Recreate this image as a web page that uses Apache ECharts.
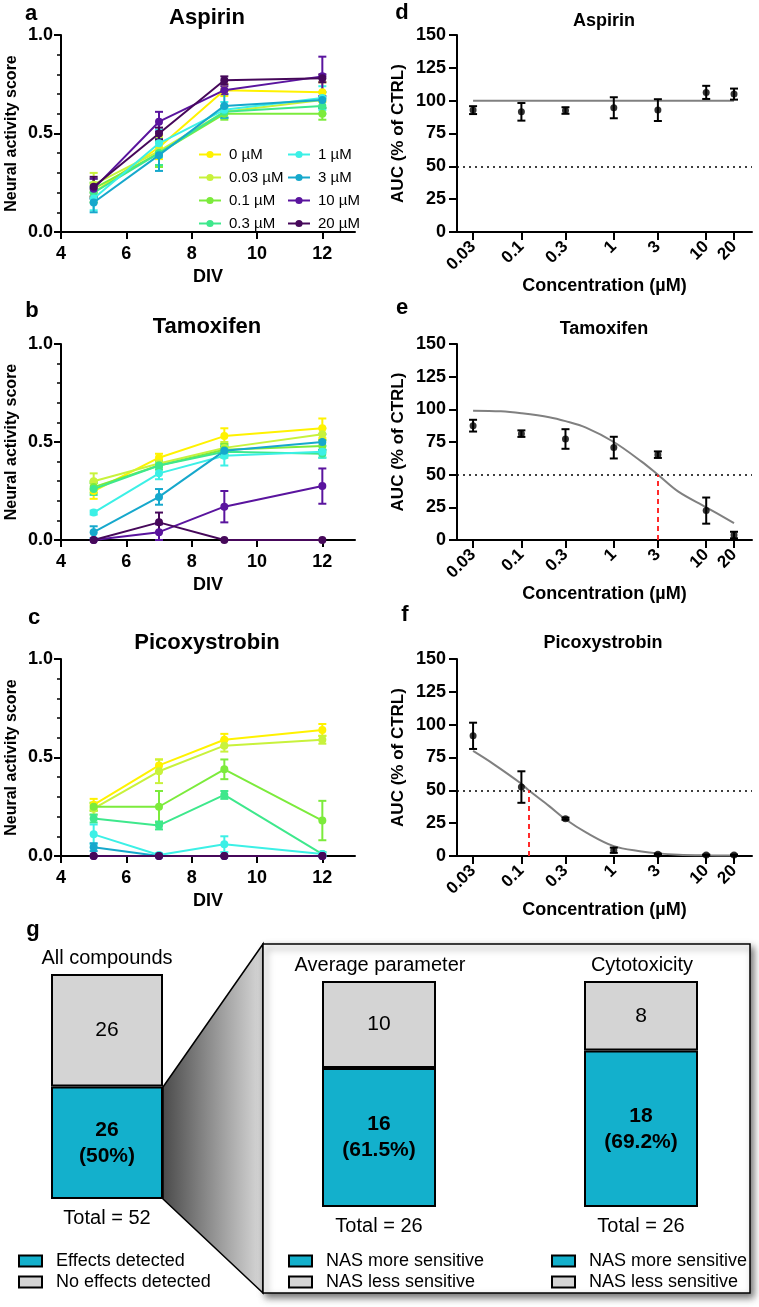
<!DOCTYPE html>
<html><head><meta charset="utf-8">
<script src="https://cdn.jsdelivr.net/npm/echarts@6/dist/echarts.min.js"></script>
<style>html,body{margin:0;padding:0;background:#fff}#c{width:759px;height:1307px}</style>
</head><body><div id="c"></div>
<script>
// ---------- DATA ----------
const concNames = ['0 µM','0.03 µM','0.1 µM','0.3 µM','1 µM','3 µM','10 µM','20 µM'];
const divDays = [5, 7, 9, 12];
const divTicks = [4, 6, 8, 10, 12];

const aspirinMean = [
  [0.20, 0.43, 0.72, 0.71],
  [0.24, 0.41, 0.61, 0.67],
  [0.22, 0.40, 0.60, 0.60],
  [0.20, 0.40, 0.61, 0.64],
  [0.17, 0.45, 0.62, 0.68],
  [0.15, 0.39, 0.64, 0.67],
  [0.22, 0.56, 0.72, 0.79],
  [0.23, 0.50, 0.77, 0.78]
];
const aspirinErr = [
  [0.05, 0.06, 0.03, 0.05],
  [0.06, 0.07, 0.03, 0.04],
  [0.05, 0.07, 0.03, 0.03],
  [0.05, 0.06, 0.03, 0.04],
  [0.06, 0.07, 0.04, 0.06],
  [0.05, 0.08, 0.06, 0.04],
  [0.05, 0.05, 0.02, 0.10],
  [0.05, 0.03, 0.02, 0.02]
];
const tamoxifenMean = [
  [0.25, 0.42, 0.53, 0.57],
  [0.30, 0.39, 0.47, 0.54],
  [0.27, 0.38, 0.46, 0.48],
  [0.26, 0.38, 0.45, 0.44],
  [0.14, 0.34, 0.43, 0.45],
  [0.04, 0.22, 0.455, 0.50],
  [0.00, 0.04, 0.17, 0.275],
  [0.00, 0.09, 0.00, 0.00]
];
const tamoxifenErr = [
  [0.04, 0.02, 0.04, 0.05],
  [0.04, 0.02, 0.03, 0.03],
  [0.03, 0.02, 0.03, 0.03],
  [0.03, 0.02, 0.03, 0.02],
  [0.01, 0.03, 0.05, 0.03],
  [0.03, 0.04, 0.02, 0.04],
  [0.00, 0.04, 0.08, 0.09],
  [0.00, 0.05, 0.00, 0.00]
];
const picoxyMean = [
  [0.26, 0.46, 0.59, 0.64],
  [0.24, 0.43, 0.56, 0.59],
  [0.25, 0.25, 0.44, 0.18],
  [0.19, 0.155, 0.31, 0.01],
  [0.11, 0.005, 0.06, 0.01],
  [0.045, 0.00, 0.00, 0.00],
  [0.00, 0.00, 0.00, 0.00],
  [0.00, 0.00, 0.00, 0.00]
];
const picoxyErr = [
  [0.03, 0.03, 0.03, 0.03],
  [0.03, 0.06, 0.03, 0.02],
  [0.02, 0.08, 0.05, 0.10],
  [0.02, 0.02, 0.02, 0.01],
  [0.05, 0.01, 0.04, 0.01],
  [0.02, 0.00, 0.00, 0.00],
  [0.00, 0.00, 0.00, 0.00],
  [0.00, 0.00, 0.00, 0.00]
];

const doseConc = [0.03, 0.1, 0.3, 1, 3, 10, 20];
const doseLabels = ['0.03', '0.1', '0.3', '1', '3', '10', '20'];
const aspirinAUC = [92.8, 91.5, 92.5, 94.6, 92.8, 106.3, 105.0];
const aspirinAUCErr = [3.0, 6.7, 2.5, 8.0, 8.3, 5.0, 4.2];
const aspirinFitConc = [0.03, 20];
const aspirinFitVal = [100, 100];

const tamoxifenAUC = [87.5, 81.4, 77.3, 70.7, 65.3, 22.5, 3.8];
const tamoxifenAUCErr = [4.5, 2.5, 7.5, 8.3, 2.5, 10.0, 2.5];
const tamoxifenFitConc = [0.03, 0.06, 0.1, 0.2, 0.3, 0.5, 1, 2, 3, 5, 10, 20];
const tamoxifenFitVal = [99, 98.5, 97, 94, 91, 86, 75, 60, 50, 37, 25, 13];
const tamoxifenIC50 = 3;

const picoxyAUC = [91.5, 52.5, 28.4, 4.4, 1.3, 0.8, 0.8];
const picoxyAUCErr = [10.0, 12.0, 0.8, 2.0, 0.5, 0.3, 0.3];
const picoxyFitConc = [0.03, 0.05, 0.1, 0.12, 0.2, 0.3, 0.5, 1, 2, 3, 5, 10, 20];
const picoxyFitVal = [80, 70, 55, 50, 38, 28, 18, 7.5, 3.5, 2, 1, 0.5, 0.3];
const picoxyIC50 = 0.12;

const allNames = ['Effects detected', 'No effects detected'];
const allValues = [26, 26];
const allTotal = 52;
const nasNames = ['NAS more sensitive', 'NAS less sensitive'];
const avgParamValues = [16, 10];
const avgParamTotal = 26;
const cytoValues = [18, 8];
const cytoTotal = 26;

// ---------- STYLE ----------
const FONT = '"Liberation Sans", Arial, Helvetica, sans-serif';
const concColors = ['#fff200', '#c8f23c', '#7ceb3c', '#3ee88c', '#3cf0e6', '#16a8cc', '#5a149e', '#46085a'];
const CYAN = '#13b0cc', GREY = '#d4d4d4';

const chart = echarts.init(document.getElementById('c'), null, {renderer: 'canvas'});

const rows = [{top: 35, height: 197}, {top: 344, height: 196}, {top: 659, height: 197}];
const grids = [];
rows.forEach(r => grids.push({left: 61, width: 294, top: r.top, height: r.height}));
rows.forEach(r => grids.push({left: 457, width: 295, top: r.top, height: r.height}));
grids.push({left: 51, width: 112, top: 974, height: 225});
grids.push({left: 322, width: 114, top: 981, height: 226});
grids.push({left: 584, width: 114, top: 981, height: 226});
grids.forEach(g => g.containLabel = false);

const boldTxt = (size) => ({fontFamily: FONT, fontWeight: 'bold', fontSize: size, color: '#000'});
const xAxes = [], yAxes = [], series = [];

function errRender(params, api) {
  const x = api.value(0), lo = api.value(1), hi = api.value(2);
  const p1 = api.coord([x, hi]), p2 = api.coord([x, lo]);
  const hw = 4;
  const style = {stroke: api.visual('color'), lineWidth: 2, fill: null};
  return {type: 'group', children: [
    {type: 'line', shape: {x1: p1[0], y1: p1[1], x2: p2[0], y2: p2[1]}, style},
    {type: 'line', shape: {x1: p1[0] - hw, y1: p1[1], x2: p1[0] + hw, y2: p1[1]}, style},
    {type: 'line', shape: {x1: p2[0] - hw, y1: p2[1], x2: p2[0] + hw, y2: p2[1]}, style}
  ]};
}

// ---- time-course panels a,b,c ----
const tcData = [[aspirinMean, aspirinErr], [tamoxifenMean, tamoxifenErr], [picoxyMean, picoxyErr]];
tcData.forEach((pair, gi) => {
  xAxes.push({
    gridIndex: gi, type: 'value', min: 4, max: 13,
    name: 'DIV', nameLocation: 'middle', nameGap: 36, nameTextStyle: boldTxt(18),
    axisLine: {onZero: false, lineStyle: {color: '#000', width: 2}},
    axisTick: {customValues: divTicks, length: 7, lineStyle: {color: '#000', width: 2}},
    axisLabel: {customValues: divTicks, margin: 13, ...boldTxt(18)},
    splitLine: {show: false}
  });
  yAxes.push({
    gridIndex: gi, type: 'value', min: 0, max: 1, interval: 0.5,
    name: 'Neural activity score', nameLocation: 'middle', nameGap: 41, nameTextStyle: boldTxt(16),
    axisLine: {show: true, onZero: false, lineStyle: {color: '#000', width: 2}},
    axisTick: {show: true, length: 7, lineStyle: {color: '#000', width: 2}},
    minorTick: {show: true, splitNumber: 5, length: 4, lineStyle: {color: '#000', width: 1.5}},
    axisLabel: {formatter: v => v.toFixed(1), margin: 8, ...boldTxt(18)},
    splitLine: {show: false}, minorSplitLine: {show: false}
  });
  const [means, errs] = pair;
  concNames.forEach((nm, ci) => {
    series.push({
      type: 'line', name: nm, xAxisIndex: gi, yAxisIndex: gi,
      data: divDays.map((d, j) => [d, means[ci][j]]),
      symbol: 'circle', symbolSize: 8, clip: false,
      lineStyle: {color: concColors[ci], width: 2},
      itemStyle: {color: concColors[ci]},
      z: 3 + ci * 0.01
    });
  });
  concNames.forEach((nm, ci) => {
    const ed = [];
    divDays.forEach((d, j) => {
      if (errs[ci][j] > 0) ed.push([d, Math.max(0, means[ci][j] - errs[ci][j]), means[ci][j] + errs[ci][j]]);
    });
    series.push({
      type: 'custom', name: 'err-' + gi + '-' + nm, xAxisIndex: gi, yAxisIndex: gi,
      renderItem: errRender, data: ed, itemStyle: {color: concColors[ci]}, z: 3
    });
  });
});

// ---- dose-response panels d,e,f ----
const L10 = Math.log10;
const doseSets = [
  {auc: aspirinAUC, err: aspirinAUCErr, fc: aspirinFitConc, fv: aspirinFitVal, ic50: null},
  {auc: tamoxifenAUC, err: tamoxifenAUCErr, fc: tamoxifenFitConc, fv: tamoxifenFitVal, ic50: tamoxifenIC50},
  {auc: picoxyAUC, err: picoxyAUCErr, fc: picoxyFitConc, fv: picoxyFitVal, ic50: picoxyIC50}
];
const doseTickVals = doseConc.map(L10);
const doseFmt = v => {
  let best = 0;
  doseTickVals.forEach((t, i) => { if (Math.abs(t - v) < Math.abs(doseTickVals[best] - v)) best = i; });
  return doseLabels[best];
};
doseSets.forEach((ds, k) => {
  const gi = 3 + k;
  xAxes.push({
    gridIndex: gi, type: 'value', min: L10(0.0201), max: L10(31.3),
    name: 'Concentration (µM)', nameLocation: 'middle', nameGap: 45, nameTextStyle: boldTxt(18),
    axisLine: {onZero: false, lineStyle: {color: '#000', width: 2}},
    axisTick: {customValues: doseTickVals, length: 8, lineStyle: {color: '#000', width: 2}},
    axisLabel: {customValues: doseTickVals, rotate: 45, formatter: doseFmt, margin: 12, ...boldTxt(17)},
    splitLine: {show: false}
  });
  yAxes.push({
    gridIndex: gi, type: 'value', min: 0, max: 150, interval: 25,
    name: 'AUC (% of CTRL)', nameLocation: 'middle', nameGap: 50, nameTextStyle: boldTxt(17),
    axisLine: {show: true, onZero: false, lineStyle: {color: '#000', width: 2}},
    axisTick: {show: true, length: 8, lineStyle: {color: '#000', width: 2}},
    axisLabel: {margin: 11, ...boldTxt(18)},
    splitLine: {show: false}
  });
  const mlData = [{yAxis: 50, lineStyle: {color: '#000', type: [2, 4], width: 1.6}}];
  if (ds.ic50) {
    mlData.push([{coord: [L10(ds.ic50), 0], lineStyle: {color: '#ff2a2a', type: [5, 4], width: 2}},
                 {coord: [L10(ds.ic50), 50]}]);
  }
  series.push({
    type: 'line', name: 'fit-' + k, xAxisIndex: gi, yAxisIndex: gi,
    data: ds.fc.map((c, i) => [L10(c), ds.fv[i]]),
    smooth: 0.35, showSymbol: false, symbol: 'none',
    lineStyle: {color: '#808080', width: 2}, z: 2,
    markLine: {silent: true, symbol: 'none', label: {show: false}, animation: false, data: mlData}
  });
  series.push({
    type: 'custom', name: 'doseerr-' + k, xAxisIndex: gi, yAxisIndex: gi,
    renderItem: errRender, itemStyle: {color: '#000'},
    data: doseConc.map((c, i) => [L10(c), Math.max(0, ds.auc[i] - ds.err[i]), ds.auc[i] + ds.err[i]]), z: 4
  });
  series.push({
    type: 'scatter', name: 'dose-' + k, xAxisIndex: gi, yAxisIndex: gi,
    data: doseConc.map((c, i) => [L10(c), ds.auc[i]]),
    symbol: 'circle', symbolSize: 7, itemStyle: {color: '#000'}, z: 5, clip: false
  });
});

// ---- panel g bars ----
const pctText = (v, t) => {
  const p = Math.round(v / t * 1000) / 10;
  return (p % 1 === 0 ? p.toFixed(0) : p.toFixed(1)) + '%';
};
const barSets = [
  {gi: 6, names: allNames, vals: allValues, total: allTotal},
  {gi: 7, names: nasNames, vals: avgParamValues, total: avgParamTotal},
  {gi: 8, names: nasNames, vals: cytoValues, total: cytoTotal}
];
barSets.forEach(bs => {
  xAxes.push({
    gridIndex: bs.gi, type: 'category', data: ['Total = ' + bs.total],
    axisLine: {show: false}, axisTick: {show: false},
    axisLabel: {margin: 9, fontFamily: FONT, fontSize: 20, color: '#000'}
  });
  yAxes.push({gridIndex: bs.gi, type: 'value', min: 0, max: bs.total, show: false, splitLine: {show: false}});
  series.push({
    type: 'bar', name: bs.names[0], xAxisIndex: bs.gi, yAxisIndex: bs.gi, stack: 's' + bs.gi,
    data: [bs.vals[0]], barWidth: '100%',
    itemStyle: {color: CYAN, borderColor: '#000', borderWidth: 2},
    label: {show: true, position: 'inside', formatter: p => p.value + '\n(' + pctText(p.value, bs.total) + ')',
            fontFamily: FONT, fontWeight: 'bold', fontSize: 21, color: '#000', lineHeight: 26}
  });
  series.push({
    type: 'bar', name: bs.names[1], xAxisIndex: bs.gi, yAxisIndex: bs.gi, stack: 's' + bs.gi,
    data: [bs.vals[1]], barWidth: '100%',
    itemStyle: {color: GREY, borderColor: '#000', borderWidth: 2},
    label: {show: true, position: 'inside', formatter: p => String(p.value),
            fontFamily: FONT, fontSize: 21, color: '#000'}
  });
});

// ---- legends ----
const lgLine = (left, names) => ({
  left, top: 142, orient: 'vertical', itemWidth: 22, itemHeight: 9, itemGap: 8,
  data: names, selectedMode: false,
  textStyle: {fontFamily: FONT, fontSize: 15, color: '#000', padding: [0, 0, 0, 3]}
});
const lgBar = (left, names) => ({
  left, top: 1247, orient: 'vertical', itemWidth: 23, itemHeight: 11, itemGap: 3, icon: 'rect',
  data: names, selectedMode: false,
  itemStyle: {borderColor: '#000', borderWidth: 2},
  textStyle: {fontFamily: FONT, fontSize: 18, color: '#000', padding: [0, 0, 0, 9]}
});
const legends = [
  lgLine(193, concNames.slice(0, 4)),
  lgLine(282, concNames.slice(4)),
  lgBar(13, allNames),
  lgBar(283, nasNames),
  lgBar(546, nasNames)
];

// ---- graphic (letters, titles, panel g decoration) ----
const txt = (text, x, y, size, bold) => ({
  type: 'text', z: 10, x, y,
  style: {text, font: (bold ? 'bold ' : '') + size + 'px ' + FONT, fill: '#000',
          textAlign: 'center', textVerticalAlign: 'middle', align: 'center', verticalAlign: 'middle'}
});
const graphic = [
  {type: 'polygon', z: 0, shape: {points: [[163, 1087], [263, 944], [263, 1293], [163, 1199]]},
   style: {fill: new echarts.graphic.LinearGradient(0, 0, 1, 0, [{offset: 0, color: '#4a4a4a'}, {offset: 1, color: '#dadada'}]),
           stroke: '#000', lineWidth: 1.5}},
  {type: 'rect', z: 0, shape: {x: 263, y: 944, width: 487, height: 349},
   style: {fill: '#fff', stroke: '#000', lineWidth: 1.5, shadowBlur: 7, shadowOffsetX: 3, shadowOffsetY: 4, shadowColor: 'rgba(0,0,0,0.55)'}},
  txt('a', 31, 14, 22, true), txt('b', 32, 311, 22, true), txt('c', 34, 618, 22, true),
  txt('d', 402, 13, 22, true), txt('e', 402, 308, 22, true), txt('f', 405, 615, 22, true),
  txt('g', 33, 930, 22, true),
  txt('Aspirin', 207, 18, 22, true), txt('Tamoxifen', 207, 327, 22, true), txt('Picoxystrobin', 207, 643, 22, true),
  txt('Aspirin', 604, 21, 18, true), txt('Tamoxifen', 604, 329, 18, true), txt('Picoxystrobin', 603, 643, 18, true),
  txt('All compounds', 107, 958, 20, false), txt('Average parameter', 380, 965, 20, false), txt('Cytotoxicity', 642, 965, 20, false)
];

chart.setOption({
  animation: false,
  backgroundColor: '#fff',
  textStyle: {fontFamily: FONT},
  grid: grids, xAxis: xAxes, yAxis: yAxes, series, legend: legends, graphic
});
</script></body></html>
